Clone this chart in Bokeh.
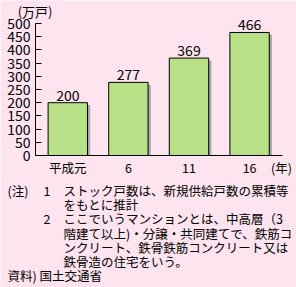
from bokeh.plotting import figure
from bokeh.models import Range1d, FixedTicker, ColumnDataSource, Label
from bokeh.core.properties import value
from bokeh.embed import file_html
from bokeh.resources import INLINE

# ---- data ----
years = ["平成元", "6", "11", "16"]
stock = [200, 277, 369, 466]
y_ticks = [0, 50, 100, 150, 200, 250, 300, 350, 400, 450, 500]
unit_label = "(万戸)"
x_unit_label = "(年)"
note_heads = ["(注)", "", "", "", "", ""]
note_nums = ["1", "", "2", "", "", ""]
note_lines = [
    "ストック戸数は、新規供給戸数の累積等",
    "をもとに推計",
    "ここでいうマンションとは、中高層（3",
    "階建て以上)・分譲・共同建てで、鉄筋コ",
    "ンクリート、鉄骨鉄筋コンクリート又は",
    "鉄骨造の住宅をいう。",
]
source_note = "資料) 国土交通省"

BG = "#fde4ef"
BAR = "#b8e086"
SHADOW = "#aaaaaa"
FONT = "Noto Sans CJK JP"
W, H = 296, 287

# layout geometry (canvas pixels)
AX_L, AX_R, AX_B, AX_T = 35, 282, 155, 23   # axes box
BAR_C0, BAR_STEP = 67.3, 60.6                # first bar centre, spacing (px)

def px2x(cx):
    return (cx - BAR_C0) / BAR_STEP

def py2y(cy):
    return (AX_B - cy) * y_ticks[-1] / (AX_B - AX_T)

xs = list(range(len(years)))
src = ColumnDataSource(dict(
    x=xs, top=stock,
    sx=[v + 0.045 for v in xs],
    stop=[v - 9 for v in stock],
    lbl=[str(v) for v in stock],
))

p = figure(width=W, height=H, output_backend="svg", toolbar_location=None,
           x_range=Range1d(px2x(0), px2x(W)), y_range=Range1d(py2y(H), py2y(0)),
           min_border=0)
p.background_fill_color = BG
p.border_fill_color = BG
p.outline_line_color = None
p.xgrid.visible = False
p.ygrid.visible = False

p.vbar(x="sx", top="stop", bottom=0, width=0.65, source=src,
       fill_color=SHADOW, line_color=None)
p.vbar(x="x", top="top", bottom=0, width=0.65, source=src,
       fill_color=BAR, line_color="black", line_width=1)
p.text(x="x", y="top", text="lbl", source=src, text_align="center",
       text_baseline="bottom", y_offset=-2, text_font_size="14px",
       text_font=value(FONT), text_color="black")

ya = p.yaxis[0]
ya.fixed_location = px2x(AX_L)
ya.ticker = FixedTicker(ticks=y_ticks)
ya.bounds = (y_ticks[0], y_ticks[-1])
ya.major_tick_in = 6
ya.major_tick_out = 0
ya.minor_tick_in = 0
ya.minor_tick_out = 0
ya.major_label_standoff = 5
ya.major_label_text_font = FONT
ya.major_label_text_font_size = "14px"
ya.major_label_text_color = "black"
ya.axis_line_color = "black"

unit_x = px2x(281)
xa = p.xaxis[0]
xa.fixed_location = 0
xa.ticker = FixedTicker(ticks=xs + [unit_x])
xa.bounds = (px2x(AX_L), px2x(AX_R))
labels = {i: y for i, y in zip(xs, years)}
labels[unit_x] = x_unit_label
xa.major_label_overrides = labels
xa.major_tick_in = 0
xa.major_tick_out = 0
xa.minor_tick_in = 0
xa.minor_tick_out = 0
xa.major_label_standoff = 2
xa.major_label_text_font = FONT
xa.major_label_text_font_size = "12.5px"
xa.major_label_text_color = "black"
xa.axis_line_color = "black"

def add_label(text, cx, cy, size="12.5px", align="left"):
    p.add_layout(Label(x=px2x(cx), y=py2y(cy), x_units="data", y_units="data",
                       text=text, text_font=FONT, text_font_size=size,
                       text_baseline="middle", text_align=align,
                       text_color="black"))

add_label(unit_label, 52, 11, "13px", "right")
line_ys = [190, 204, 218, 233, 247, 261]
for h, n, t, ly in zip(note_heads, note_nums, note_lines, line_ys):
    if h:
        add_label(h, 7, ly)
    if n:
        add_label(n, 43, ly)
    add_label(t, 63, ly)
add_label(source_note, 7, 275)

open("out.html", "w").write(file_html(p, INLINE))
